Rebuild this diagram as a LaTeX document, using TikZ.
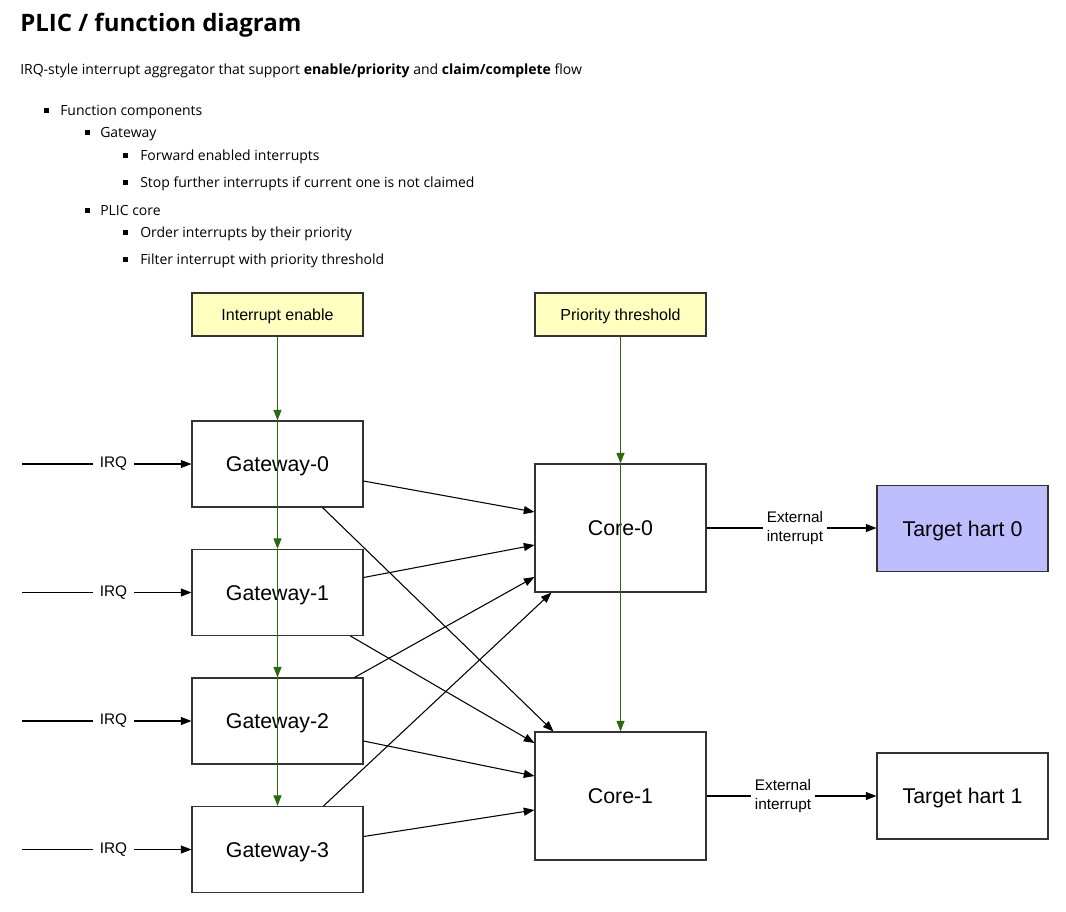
\documentclass[tikz,border=0pt]{standalone}
\usepackage{fontspec}
\setmainfont{Open Sans}
\newfontfamily\diagfont{Liberation Sans}
\usetikzlibrary{arrows.meta,calc}
\definecolor{boxline}{RGB}{51,51,51}
\definecolor{ctlfill}{RGB}{255,255,192}
\definecolor{hartfill}{RGB}{190,190,255}
\definecolor{ctlgreen}{RGB}{45,105,15}
\begin{document}
\begin{tikzpicture}[x=0.75pt,y=-0.75pt,
  txt/.style={anchor=base west,inner sep=0pt,font=\fontsize{10.5}{12}\selectfont},
  bul/.style={fill=black,inner sep=0pt,minimum size=3.8pt},
  blk/.style={draw=boxline,line width=0.8pt,fill=white,inner sep=0pt,minimum width=128.25pt,minimum height=64.5pt,text height=11.5pt,text depth=0pt,font=\diagfont\fontsize{16}{18}\selectfont},
  core/.style={blk,minimum height=96pt},
  ctl/.style={blk,fill=ctlfill,minimum height=32.25pt,text height=8.6pt,font=\diagfont\fontsize{12}{13}\selectfont},
  lbl/.style={fill=white,inner xsep=5pt,inner ysep=1pt,font=\diagfont\fontsize{11.5}{14}\selectfont,align=center},
  conn/.style={line width=0.8pt,-{Triangle[length=8pt,width=6pt]}},
  gconn/.style={line width=0.95pt,draw=ctlgreen,-{Triangle[length=8pt,width=6pt,fill=ctlgreen]}}
]
\useasboundingbox (0,0) rectangle (1066,911);
% header
\node[txt,font=\fontsize{18}{20}\selectfont\bfseries] (title) at (20,31) {PLIC / function diagram};
\node[txt] (sub) at (20,74) {IRQ-style interrupt aggregator that support \textbf{enable/priority} and \textbf{claim/complete} flow};
\node[bul] (b1) at (46.5,110.5) {};
\node[txt] (t1) at (60,115) {Function components};
\node[bul] (b2) at (87.5,132.5) {};
\node[txt] (t2) at (100,137) {Gateway};
\node[bul] (b3) at (125.5,155.5) {};
\node[txt] (t3) at (140,160) {Forward enabled interrupts};
\node[bul] (b4) at (125.5,182.5) {};
\node[txt] (t4) at (140,187) {Stop further interrupts if current one is not claimed};
\node[bul] (b5) at (87.5,210.5) {};
\node[txt] (t5) at (100,215) {PLIC core};
\node[bul] (b6) at (125.5,232.5) {};
\node[txt] (t6) at (140,237) {Order interrupts by their priority};
\node[bul] (b7) at (125.5,259.5) {};
\node[txt] (t7) at (140,264) {Filter interrupt with priority threshold};
% boxes
\node[ctl] (ie) at (277.5,314.5) {Interrupt enable};
\node[ctl] (pt) at (620.5,314.5) {Priority threshold};
\node[blk] (gw0) at (277.5,464) {Gateway-0};
\node[blk] (gw1) at (277.5,592.5) {Gateway-1};
\node[blk] (gw2) at (277.5,721) {Gateway-2};
\node[blk] (gw3) at (277.5,849.5) {Gateway-3};
\node[core] (c0) at (620.5,528) {Core-0};
\node[core] (c1) at (620.5,796) {Core-1};
\node[blk,fill=hartfill] (h0) at (962.5,528.5) {Target hart 0};
\node[blk] (h1) at (962.5,796) {Target hart 1};
% IRQ sources
\coordinate (s0) at (22,464);
\coordinate (s1) at (22,592.5);
\coordinate (s2) at (22,721);
\coordinate (s3) at (22,849.5);
\draw[conn] (s0) -- node[lbl,pos=0.54]{IRQ} (gw0.west);
\draw[conn] (s1) -- node[lbl,pos=0.54]{IRQ} (gw1.west);
\draw[conn] (s2) -- node[lbl,pos=0.54]{IRQ} (gw2.west);
\draw[conn] (s3) -- node[lbl,pos=0.54]{IRQ} (gw3.west);
% gateway to core
\draw[conn] ($(gw0.east)+(0,17)$) -- ($(c0.west)+(0,-16)$);
\draw[conn] ($(gw0.south)+(45,0)$) -- ($(c1.north)+(-67,0)$);
\draw[conn] ($(gw1.east)+(0,-15)$) -- ($(c0.west)+(0,17)$);
\draw[conn] ($(gw1.south)+(73,0)$) -- ($(c1.west)+(0,-53)$);
\draw[conn] ($(gw2.north)+(77,0)$) -- ($(c0.west)+(0,49)$);
\draw[conn] ($(gw2.east)+(0,20)$) -- ($(c1.west)+(0,-20)$);
\draw[conn] ($(gw3.north)+(46,0)$) -- ($(c0.south)+(-69,0)$);
\draw[conn] ($(gw3.east)+(0,-13)$) -- ($(c1.west)+(0,14)$);
% core to hart
\draw[conn] (c0.east) -- node[lbl,pos=0.52,inner xsep=3pt]{External\\interrupt} (h0.west |- c0.east);
\draw[conn] (c1.east) -- node[lbl,pos=0.45,inner xsep=3pt]{External\\interrupt} (h1.west);
% green control lines
\draw[gconn] (ie.south) -- (gw0.north);
\draw[gconn] (gw0.north) -- (gw1.north);
\draw[gconn] (gw1.north) -- (gw2.north);
\draw[gconn] (gw2.north) -- (gw3.north);
\draw[gconn] (pt.south) -- (c0.north);
\draw[gconn] (c0.north) -- (c1.north);
\end{tikzpicture}
\end{document}
